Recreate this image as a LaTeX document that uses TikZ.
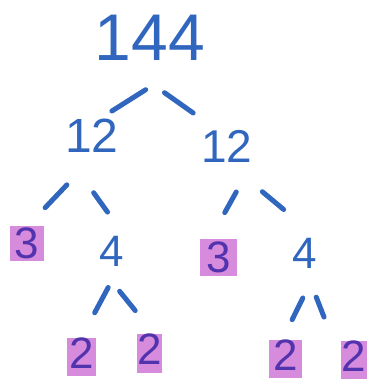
\documentclass[tikz,border=0pt]{standalone}
\usepackage{fontspec}
\setmainfont{Liberation Sans}
\definecolor{Ink}{HTML}{3166BE}
\definecolor{Mark}{HTML}{D78BDD}
\definecolor{Deep}{HTML}{5233AE}

\begin{document}
\begin{tikzpicture}[x=1pt,y=-1pt,
    num/.style={text=Ink,inner sep=0pt,font=\fontsize{44}{44}\selectfont},
    prime/.style={num,fill=Mark,text=Deep},
    low/.style={prime,text depth=8pt},
    branch/.style={draw=Ink,line width=5pt,line cap=round}
  ]
    \useasboundingbox (0,0) rectangle (367,381);
    \clip (0,0) rectangle (367,381);
    \node[num,font=\fontsize{66}{66}\selectfont] (n144) at (150,38) {144};
    \node[num,font=\fontsize{48}{48}\selectfont] (n12a) at (92,136) {12};
    \node[num,font=\fontsize{46}{46}\selectfont] (n12b) at (227,146) {12};
    \node[prime,minimum width=34pt,minimum height=35pt] (n3a) at (27,243.5) {3};
    \node[num] (n4a) at (112,251) {4};
    \node[prime,minimum width=37pt,minimum height=37pt] (n3b) at (218.5,257.5) {3};
    \node[num] (n4b) at (305,253) {4};
    \node[low,minimum width=29pt] (n2a) at (81.5,357) {2};
    \node[low,minimum width=25pt] (n2b) at (149.5,353.5) {2};
    \node[low,minimum width=33pt] (n2c) at (285.5,359) {2};
    \node[low,minimum width=26pt] (n2d) at (354,360) {2};
    % short strokes between parent and factor
    \foreach \a/\b/\s/\e in {n144.331/n12a.67/54/15,n144.217/n12b.122/55/29,
      n12a.287/n3a.87/44/25,n12a.south west/n4a.north east/49/29,
      n12b.south east/n3b.114/34/30,n12b.south/n4b.north east/46/44,
      n4a.296/n2a.north/24/28,n4a.south west/n2b.77/32/30,
      n4b.south east/n2c.99/33/22,n4b.south/n2d.west/31/46}
      \draw[branch,shorten <=\s pt,shorten >=\e pt] (\a) -- (\b);
  \end{tikzpicture}
\end{document}
